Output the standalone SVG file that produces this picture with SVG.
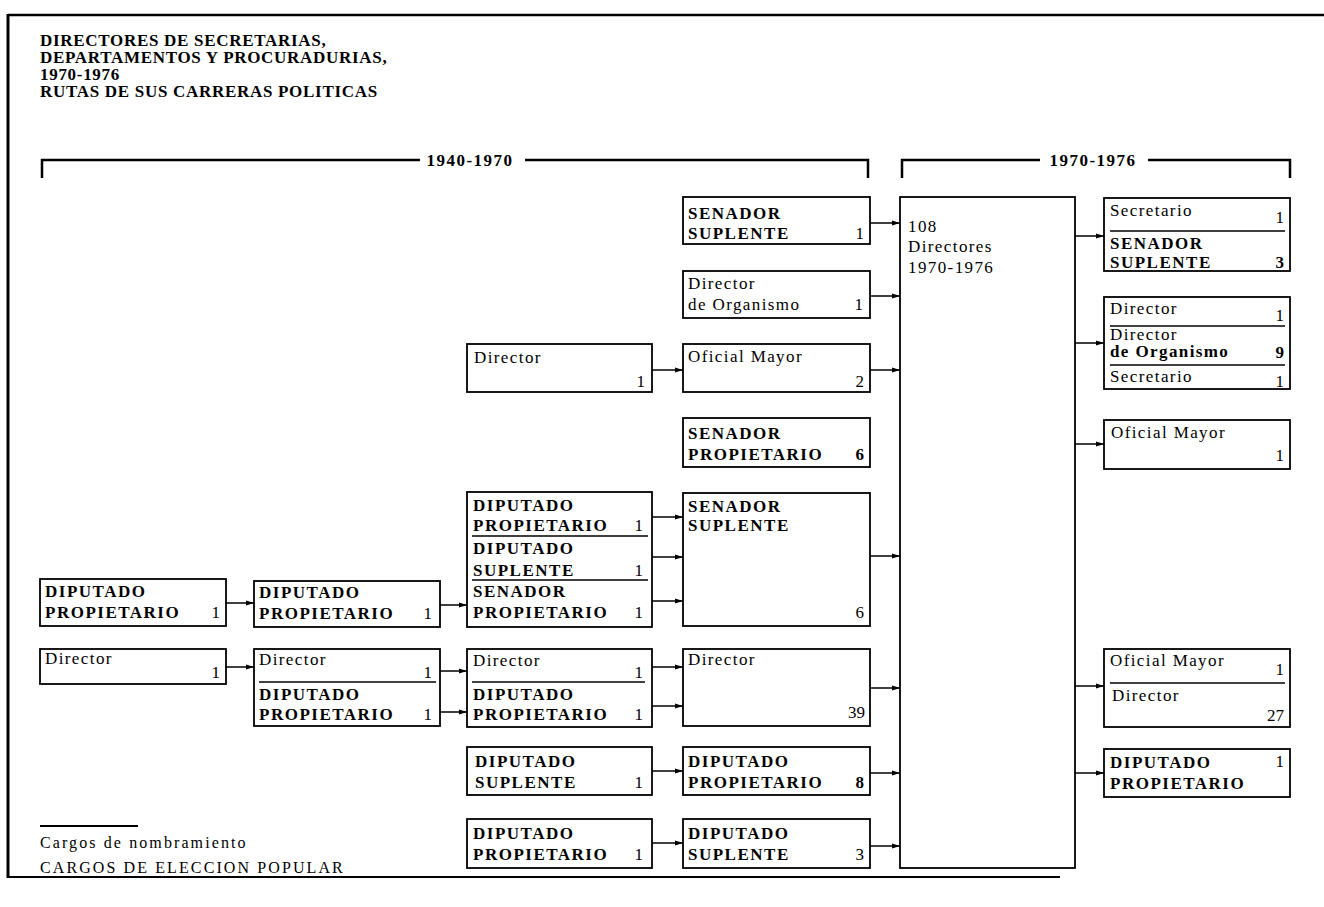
<svg xmlns="http://www.w3.org/2000/svg" width="1324" height="907" viewBox="0 0 1324 907">
<style>
text{font-family:"Liberation Serif","Times New Roman",serif;fill:#000}
.t{font-size:17px;letter-spacing:1.4px}
.c{font-size:17px;font-weight:bold;letter-spacing:1.5px}
.n{font-size:17px;text-anchor:end}
.nb{font-size:17px;font-weight:bold;text-anchor:end}
.title{font-size:17px;font-weight:bold;letter-spacing:0.7px}
.yr{font-size:17px;font-weight:bold;letter-spacing:1.5px;text-anchor:middle}
.leg{font-size:16px;letter-spacing:2.1px}
.box{fill:#fff;stroke:#000;stroke-width:1.8}
.sep{stroke:#000;stroke-width:1.5;fill:none}
.frame{stroke:#000;fill:none}
.con{stroke:#000;stroke-width:1.5;fill:none;marker-end:url(#ah)}
</style>
<defs>
<marker id="ah" markerWidth="8" markerHeight="6" refX="8" refY="3" orient="auto" markerUnits="userSpaceOnUse">
<path d="M0,0.5 L8,3 L0,5.5 Z" fill="#000"/>
</marker>
</defs>
<rect width="1324" height="907" fill="#fff"/>

<g id="frame">
<line class="frame" x1="8" y1="14" x2="8" y2="878" stroke-width="3"/>
<line class="frame" x1="8" y1="15" x2="1324" y2="15" stroke-width="2.5"/>
<line class="frame" x1="8" y1="877" x2="1060" y2="877" stroke-width="2"/>
</g>

<g id="title">
<text class="title" x="40" y="46">DIRECTORES DE SECRETARIAS,</text>
<text class="title" x="40" y="63">DEPARTAMENTOS Y PROCURADURIAS,</text>
<text class="title" x="40" y="80">1970-1976</text>
<text class="title" x="40" y="97">RUTAS DE SUS CARRERAS POLITICAS</text>
</g>

<g id="bracket-1940-1970">
<polyline class="frame" stroke-width="2.5" points="42,178 42,160 420,160"/>
<text class="yr" x="470" y="166">1940-1970</text>
<polyline class="frame" stroke-width="2.5" points="525,160 868,160 868,178"/>
</g>
<g id="bracket-1970-1976">
<polyline class="frame" stroke-width="2.5" points="902,178 902,160 1040,160"/>
<text class="yr" x="1093" y="166">1970-1976</text>
<polyline class="frame" stroke-width="2.5" points="1148,160 1290,160 1290,178"/>
</g>

<g id="connectors">
<line class="con" x1="226" y1="603" x2="254" y2="603"/>
<line class="con" x1="226" y1="667" x2="254" y2="667"/>
<line class="con" x1="440" y1="605" x2="467" y2="605"/>
<line class="con" x1="440" y1="671" x2="467" y2="671"/>
<line class="con" x1="440" y1="712" x2="467" y2="712"/>
<line class="con" x1="652" y1="370" x2="683" y2="370"/>
<line class="con" x1="652" y1="517" x2="683" y2="517"/>
<line class="con" x1="652" y1="557" x2="683" y2="557"/>
<line class="con" x1="652" y1="601" x2="683" y2="601"/>
<line class="con" x1="652" y1="667" x2="683" y2="667"/>
<line class="con" x1="652" y1="706" x2="683" y2="706"/>
<line class="con" x1="652" y1="771" x2="683" y2="771"/>
<line class="con" x1="652" y1="843" x2="683" y2="843"/>
<line class="con" x1="870" y1="223" x2="900" y2="223"/>
<line class="con" x1="870" y1="296" x2="900" y2="296"/>
<line class="con" x1="870" y1="370" x2="900" y2="370"/>
<line class="con" x1="870" y1="556" x2="900" y2="556"/>
<line class="con" x1="870" y1="688" x2="900" y2="688"/>
<line class="con" x1="870" y1="773" x2="900" y2="773"/>
<line class="con" x1="870" y1="846" x2="900" y2="846"/>
<line class="con" x1="1075" y1="236" x2="1104" y2="236"/>
<line class="con" x1="1075" y1="343" x2="1104" y2="343"/>
<line class="con" x1="1075" y1="444" x2="1104" y2="444"/>
<line class="con" x1="1075" y1="686" x2="1104" y2="686"/>
<line class="con" x1="1075" y1="773" x2="1104" y2="773"/>
</g>

<g id="a1-diputado-propietario">
<rect class="box" x="40" y="579" width="186" height="47"/>
<text class="c" x="45" y="597">DIPUTADO</text>
<text class="c" x="45" y="618">PROPIETARIO</text>
<text class="n" x="220" y="618">1</text>
</g>
<g id="a1-director">
<rect class="box" x="40" y="649" width="186" height="35"/>
<text class="t" x="45" y="664">Director</text>
<text class="n" x="220" y="678">1</text>
</g>

<g id="a2-diputado-propietario">
<rect class="box" x="254" y="581" width="186" height="46"/>
<text class="c" x="259" y="598">DIPUTADO</text>
<text class="c" x="259" y="619">PROPIETARIO</text>
<text class="n" x="432" y="619">1</text>
</g>
<g id="a2-director-diputado">
<rect class="box" x="254" y="649" width="186" height="77"/>
<text class="t" x="259" y="665">Director</text>
<text class="n" x="432" y="678">1</text>
<line class="sep" x1="259" y1="682" x2="436" y2="682"/>
<text class="c" x="259" y="700">DIPUTADO</text>
<text class="c" x="259" y="720">PROPIETARIO</text>
<text class="n" x="432" y="720">1</text>
</g>

<g id="b-director">
<rect class="box" x="467" y="344" width="185" height="48"/>
<text class="t" x="474" y="363">Director</text>
<text class="n" x="645" y="387">1</text>
</g>
<g id="b-triple">
<rect class="box" x="467" y="492" width="185" height="135"/>
<text class="c" x="473" y="511">DIPUTADO</text>
<text class="c" x="473" y="531">PROPIETARIO</text>
<text class="n" x="643" y="531">1</text>
<line class="sep" x1="472" y1="536" x2="648" y2="536"/>
<text class="c" x="473" y="554">DIPUTADO</text>
<text class="c" x="473" y="576">SUPLENTE</text>
<text class="n" x="643" y="576">1</text>
<line class="sep" x1="472" y1="580" x2="648" y2="580"/>
<text class="c" x="473" y="597">SENADOR</text>
<text class="c" x="473" y="618">PROPIETARIO</text>
<text class="n" x="643" y="618">1</text>
</g>
<g id="b-director-diputado">
<rect class="box" x="467" y="649" width="185" height="78"/>
<text class="t" x="473" y="666">Director</text>
<text class="n" x="643" y="678">1</text>
<line class="sep" x1="472" y1="682" x2="645" y2="682"/>
<text class="c" x="473" y="700">DIPUTADO</text>
<text class="c" x="473" y="720">PROPIETARIO</text>
<text class="n" x="643" y="720">1</text>
</g>
<g id="b-diputado-suplente">
<rect class="box" x="467" y="747" width="185" height="48"/>
<text class="c" x="475" y="767">DIPUTADO</text>
<text class="c" x="475" y="788">SUPLENTE</text>
<text class="n" x="643" y="788">1</text>
</g>
<g id="b-diputado-propietario">
<rect class="box" x="467" y="819" width="185" height="49"/>
<text class="c" x="473" y="839">DIPUTADO</text>
<text class="c" x="473" y="860">PROPIETARIO</text>
<text class="n" x="643" y="860">1</text>
</g>

<g id="c-senador-suplente-1">
<rect class="box" x="683" y="197" width="187" height="47"/>
<text class="c" x="688" y="219">SENADOR</text>
<text class="c" x="688" y="239">SUPLENTE</text>
<text class="n" x="864" y="239">1</text>
</g>
<g id="c-director-organismo">
<rect class="box" x="683" y="271" width="187" height="47"/>
<text class="t" x="688" y="289">Director</text>
<text class="t" x="688" y="310">de Organismo</text>
<text class="n" x="863" y="310">1</text>
</g>
<g id="c-oficial-mayor">
<rect class="box" x="683" y="344" width="187" height="48"/>
<text class="t" x="688" y="362">Oficial Mayor</text>
<text class="n" x="864" y="387">2</text>
</g>
<g id="c-senador-propietario">
<rect class="box" x="683" y="418" width="187" height="49"/>
<text class="c" x="688" y="439">SENADOR</text>
<text class="c" x="688" y="460">PROPIETARIO</text>
<text class="nb" x="864" y="460">6</text>
</g>
<g id="c-senador-suplente-6">
<rect class="box" x="683" y="493" width="187" height="133"/>
<text class="c" x="688" y="512">SENADOR</text>
<text class="c" x="688" y="531">SUPLENTE</text>
<text class="n" x="864" y="618">6</text>
</g>
<g id="c-director-39">
<rect class="box" x="683" y="649" width="187" height="77"/>
<text class="t" x="688" y="665">Director</text>
<text class="n" x="865" y="718">39</text>
</g>
<g id="c-diputado-propietario-8">
<rect class="box" x="683" y="747" width="187" height="48"/>
<text class="c" x="688" y="767">DIPUTADO</text>
<text class="c" x="688" y="788">PROPIETARIO</text>
<text class="nb" x="864" y="788">8</text>
</g>
<g id="c-diputado-suplente-3">
<rect class="box" x="683" y="819" width="187" height="49"/>
<text class="c" x="688" y="839">DIPUTADO</text>
<text class="c" x="688" y="860">SUPLENTE</text>
<text class="n" x="864" y="860">3</text>
</g>

<g id="center-108">
<rect class="box" x="900" y="197" width="175" height="671" stroke-width="1.5"/>
<text class="t" x="908" y="232">108</text>
<text class="t" x="908" y="252">Directores</text>
<text class="t" x="908" y="273">1970-1976</text>
</g>

<g id="r-secretario-senador">
<rect class="box" x="1104" y="198" width="186" height="73"/>
<text class="t" x="1110" y="216" letter-spacing="0.6">Secretario</text>
<text class="n" x="1284" y="223">1</text>
<line class="sep" x1="1110" y1="231" x2="1285" y2="231"/>
<text class="c" x="1110" y="249">SENADOR</text>
<text class="c" x="1110" y="268">SUPLENTE</text>
<text class="nb" x="1284" y="268">3</text>
</g>
<g id="r-director-organismo-secretario">
<rect class="box" x="1104" y="297" width="186" height="92"/>
<text class="t" x="1110" y="314">Director</text>
<text class="n" x="1284" y="321">1</text>
<line class="sep" x1="1110" y1="326" x2="1285" y2="326"/>
<text class="t" x="1110" y="340" font-size="15">Director</text>
<text class="t" x="1110" y="357" font-size="15" font-weight="bold" letter-spacing="0.4">de Organismo</text>
<text class="nb" x="1284" y="358">9</text>
<line class="sep" x1="1110" y1="365" x2="1285" y2="365"/>
<text class="t" x="1110" y="382" letter-spacing="0.4">Secretario</text>
<text class="n" x="1284" y="387">1</text>
</g>
<g id="r-oficial-mayor">
<rect class="box" x="1104" y="420" width="186" height="49"/>
<text class="t" x="1111" y="438">Oficial Mayor</text>
<text class="n" x="1284" y="461">1</text>
</g>
<g id="r-oficial-director">
<rect class="box" x="1104" y="649" width="186" height="78"/>
<text class="t" x="1110" y="666">Oficial Mayor</text>
<text class="n" x="1284" y="675">1</text>
<line class="sep" x1="1110" y1="683" x2="1285" y2="683"/>
<text class="t" x="1112" y="701">Director</text>
<text class="n" x="1284" y="721">27</text>
</g>
<g id="r-diputado-propietario">
<rect class="box" x="1104" y="749" width="186" height="48"/>
<text class="c" x="1110" y="768">DIPUTADO</text>
<text class="c" x="1110" y="789">PROPIETARIO</text>
<text class="n" x="1284" y="767">1</text>
</g>

<g id="legend">
<line x1="40" y1="826" x2="138" y2="826" stroke="#000" stroke-width="2"/>
<text class="leg" x="40" y="848">Cargos de nombramiento</text>
<text class="leg" x="40" y="873">CARGOS DE ELECCION POPULAR</text>
</g>
</svg>
